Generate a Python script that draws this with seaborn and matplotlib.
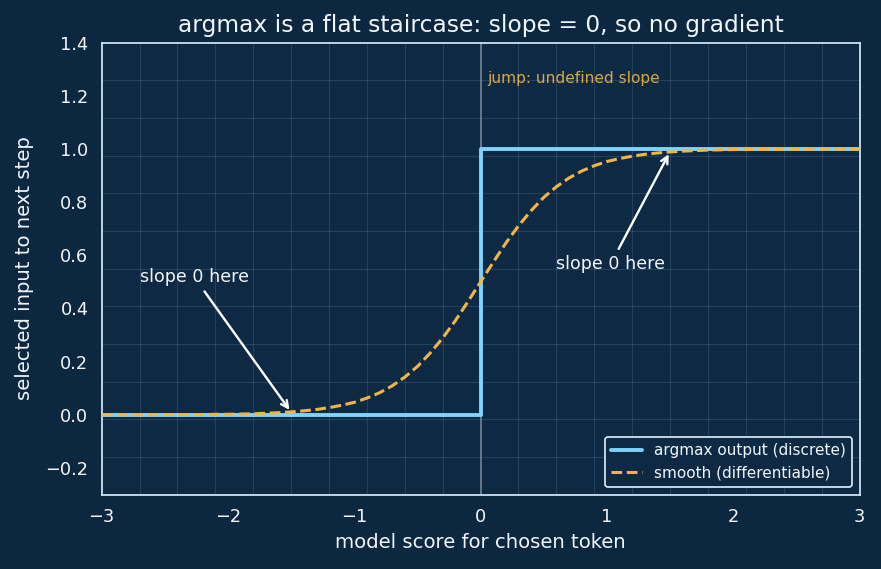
import numpy as np
import pandas as pd
import matplotlib
matplotlib.use("Agg")
import matplotlib.pyplot as plt
import seaborn as sns

# ---- data ----
step_x = [-3.0, 0.0, 0.0, 3.0]
step_y = [0.0, 0.0, 1.0, 1.0]

smooth_x = [round(v, 1) for v in np.arange(-3.0, 3.001, 0.1)]
smooth_y = [0.000, 0.000, 0.000, 0.000, 0.000, 0.001, 0.001, 0.001, 0.001, 0.002,
            0.002, 0.003, 0.004, 0.006, 0.008, 0.011, 0.015, 0.020, 0.027, 0.036,
            0.047, 0.063, 0.083, 0.109, 0.142, 0.182, 0.232, 0.289, 0.354, 0.426,
            0.500,
            0.574, 0.646, 0.711, 0.768, 0.818, 0.858, 0.891, 0.917, 0.937, 0.953,
            0.964, 0.973, 0.980, 0.985, 0.989, 0.992, 0.994, 0.996, 0.997, 0.998,
            0.998, 0.999, 0.999, 0.999, 0.999, 1.000, 1.000, 1.000, 1.000, 1.000]

x_ticks = [-3, -2, -1, 0, 1, 2, 3]
y_ticks = [-0.2, 0.0, 0.2, 0.4, 0.6, 0.8, 1.0, 1.2, 1.4]

title = "argmax is a flat staircase: slope = 0, so no gradient"
xlabel = "model score for chosen token"
ylabel = "selected input to next step"

# ---- style ----
BG = "#0c2740"
AX_BG = "#0d2944"
FG = "#f2f6fa"
SPINE = "#cfe2f2"
BLUE = "#7fd3ff"
ORANGE = "#f2b544"

sns.set_theme(style="dark")
plt.rcParams['font.family'] = ['DejaVu Sans']

fig = plt.figure(figsize=(8.81, 5.69), dpi=100, facecolor=BG)
ax = fig.add_axes([0.1154, 0.1308, 0.9756 - 0.1154, 0.925 - 0.1308])
ax.set_facecolor(AX_BG)

df_step = pd.DataFrame({"x": step_x, "y": step_y})
df_smooth = pd.DataFrame({"x": smooth_x, "y": smooth_y})

ax.axvline(0, color="#9aa6b2", lw=1.1, alpha=0.8, zorder=1)

sns.lineplot(data=df_step, x="x", y="y", ax=ax, estimator=None, sort=False,
             color=BLUE, lw=2.8, label="argmax output (discrete)", zorder=3)
sns.lineplot(data=df_smooth, x="x", y="y", ax=ax, estimator=None, sort=False,
             color=ORANGE, lw=2.2, dashes=False, label="smooth (differentiable)", zorder=4)
ax.lines[-1].set_linestyle((0, (3.5, 1.5)))

ax.set_xlim(-3, 3)
ax.set_ylim(-0.3, 1.4)
ax.set_xticks(x_ticks)
ax.set_yticks(y_ticks)
ax.set_xticklabels([f"{v}".replace("-", "\u2212") for v in x_ticks])
ax.set_yticklabels([f"{v:.1f}".replace("-", "\u2212") for v in y_ticks])

# lattice grid (20 x 12 divisions of the axes)
ax.set_xticks(np.linspace(-3, 3, 21), minor=True)
ax.set_yticks(np.linspace(-0.3, 1.4, 13), minor=True)
ax.grid(False, which="major")
ax.grid(True, which="minor", color="#8fb0cc", alpha=0.18, lw=0.8)
ax.tick_params(which="minor", length=0)
ax.tick_params(which="major", length=5.5, width=1.3, color=SPINE, colors=FG,
               labelsize=12.8, pad=4)

for s in ax.spines.values():
    s.set_visible(True)
    s.set_color(SPINE)
    s.set_linewidth(1.3)

ax.set_title(title, color=FG, fontsize=16.8, pad=8)
ax.set_xlabel(xlabel, color=FG, fontsize=14.1, labelpad=5)
ax.set_ylabel(ylabel, color=FG, fontsize=14.1, labelpad=8)

ax.text(0.05, 1.25, "jump: undefined slope", color=ORANGE, fontsize=11.1, alpha=0.9)
ax.annotate("slope 0 here", xy=(-1.5, 0.01), xytext=(-2.7, 0.5), color=FG, fontsize=12.6,
            arrowprops=dict(arrowstyle="->", color="white", lw=1.7))
ax.annotate("slope 0 here", xy=(1.5, 0.99), xytext=(0.6, 0.55), color=FG, fontsize=12.6,
            arrowprops=dict(arrowstyle="->", color="white", lw=1.7))

leg = ax.legend(loc="lower right", fontsize=11, facecolor=AX_BG, edgecolor=SPINE,
                framealpha=1.0, labelcolor=FG, fancybox=True, borderaxespad=0.5)
leg.get_frame().set_linewidth(1.3)

fig.savefig("out.png", dpi=100, facecolor=BG)
